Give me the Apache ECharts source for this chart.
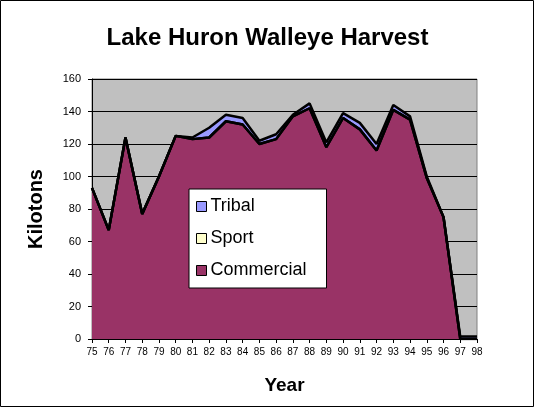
<!DOCTYPE html>
<html>
<head>
<meta charset="utf-8">
<title>Lake Huron Walleye Harvest</title>
<script src="https://cdn.jsdelivr.net/npm/echarts@6/dist/echarts.min.js"></script>
<style>
  html, body { margin: 0; padding: 0; background: #fff; }
  #main { width: 535px; height: 408px; }
</style>
</head>
<body>
<div id="main"></div>
<script>
// years on the x axis (19xx)
var years = ['75','76','77','78','79','80','81','82','83','84','85','86',
             '87','88','89','90','91','92','93','94','95','96','97','98'];
// harvest in kilotons, stacked bottom to top: commercial, sport, tribal
var commercial = [93, 67, 124, 77, 100, 125, 123, 124, 134, 132, 120, 123,
                  137, 142, 118, 136, 129, 116, 141, 135, 99, 75, 0, 0];
var sport      = [0, 0, 0, 0, 0, 0, 0, 0, 0, 0, 0, 0,
                  0, 0, 0, 0, 0, 0, 0, 0, 0, 0, 0, 0];
var tribal     = [0, 0, 0, 0, 0, 0, 1, 6, 4, 4, 2, 3,
                  1, 3, 3, 3, 4, 4, 3, 2, 1, 0, 1.5, 1.5];

var font = 'Liberation Sans, Arial, sans-serif';

function areaSeries(name, data, color) {
    return {
        name: name,
        type: 'line',
        stack: 'total',
        data: data,
        symbol: 'none',
        itemStyle: { color: color },
        lineStyle: { color: '#000', width: 2.5 },
        areaStyle: { color: color, opacity: 1 }
    };
}

var myChart = echarts.init(document.getElementById('main'));
var option = {
    animation: false,
    backgroundColor: '#fff',
    textStyle: { fontFamily: font },
    title: {
        text: 'Lake Huron Walleye Harvest',
        left: 'center',
        top: 21,
        textStyle: { fontSize: 24, fontWeight: 'bold', color: '#000', fontFamily: font }
    },
    legend: {
        data: ['Tribal', 'Sport', 'Commercial'],
        orient: 'vertical',
        left: 189,
        top: 189,
        icon: 'rect',
        itemWidth: 10,
        itemHeight: 10,
        itemGap: 11,
        padding: [7, 20, 7, 7],
        backgroundColor: '#fff',
        borderColor: '#000',
        borderWidth: 1,
        itemStyle: { borderColor: '#000', borderWidth: 1 },
        textStyle: { fontSize: 18, lineHeight: 21, color: '#000', fontFamily: font, padding: [0, 0, 0, -1] }
    },
    grid: {
        left: 92,
        right: 58,
        top: 79,
        bottom: 69,
        show: true,
        backgroundColor: '#C0C0C0',
        borderColor: '#808080',
        borderWidth: 1
    },
    xAxis: {
        type: 'category',
        data: years,
        boundaryGap: false,
        name: 'Year',
        nameLocation: 'middle',
        nameGap: 37,
        nameTextStyle: { fontSize: 19, fontWeight: 'bold', color: '#000', fontFamily: font },
        axisLine: { lineStyle: { color: '#000', width: 1 } },
        axisTick: { length: 4, lineStyle: { color: '#000' } },
        axisLabel: { interval: 0, fontSize: 10, color: '#000', margin: 8 },
        splitLine: { show: false }
    },
    yAxis: {
        type: 'value',
        min: 0,
        max: 160,
        interval: 20,
        name: 'Kilotons',
        nameLocation: 'middle',
        nameGap: 46,
        nameTextStyle: { fontSize: 20, fontWeight: 'bold', color: '#000', fontFamily: font },
        axisLine: { show: true, lineStyle: { color: '#000', width: 1 } },
        axisTick: { show: true, length: 4, lineStyle: { color: '#000' } },
        axisLabel: { fontSize: 11, color: '#000', margin: 11 },
        splitLine: { lineStyle: { color: '#000', width: 1 } }
    },
    graphic: [{
        type: 'rect',
        shape: { x: 0.5, y: 0.5, width: 533, height: 406 },
        style: { fill: 'none', stroke: '#000', lineWidth: 1 },
        silent: true
    }],
    series: [
        areaSeries('Commercial', commercial, '#993366'),
        areaSeries('Sport', sport, '#FFFFCC'),
        areaSeries('Tribal', tribal, '#9999FF')
    ]
};
myChart.setOption(option);
</script>
</body>
</html>
